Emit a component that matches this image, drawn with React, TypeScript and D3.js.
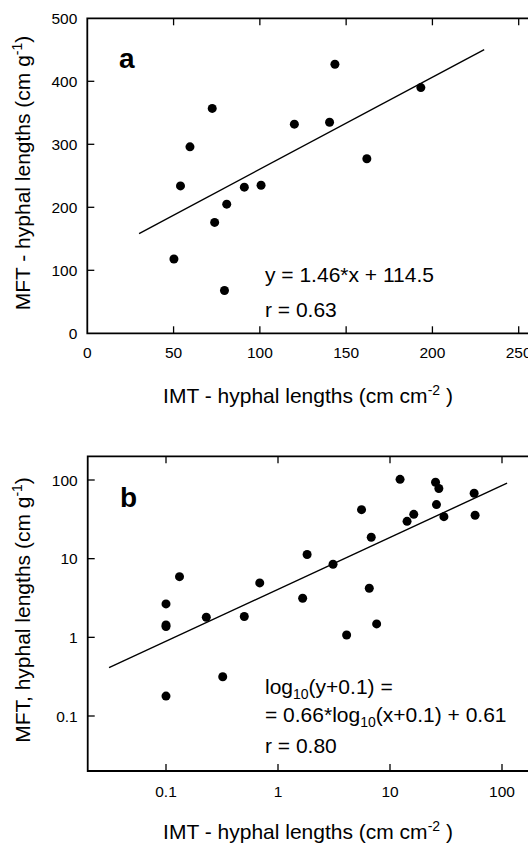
import * as d3 from 'd3'

// panel a: linear scale
const aX = [50.2, 54, 59.5, 72.4, 73.8, 79.5, 80.8, 91, 100.7, 120, 140.4, 143.5, 162, 193.3]
const aY = [118, 234, 296, 357, 176, 68, 205, 232, 235, 332, 335, 427, 277, 390]
const aXTicks = [0, 50, 100, 150, 200, 250]
const aYTicks = [0, 100, 200, 300, 400, 500]
const aFit = { slope: 1.46, intercept: 114.5, from: 30, to: 230 }

// panel b: log-log
const bX = [0.1, 0.1, 0.1, 0.1, 0.132, 0.229, 0.321, 0.5, 0.687, 1.66, 1.82, 3.1, 4.1, 5.57, 6.53, 6.8, 7.6, 12.3, 14.2, 16.3, 25.5, 27.3, 26, 30.3, 56.4, 57.5]
const bY = [2.66, 1.44, 1.37, 0.179, 5.9, 1.8, 0.315, 1.84, 4.92, 3.14, 11.3, 8.5, 1.07, 42, 4.2, 18.7, 1.48, 102, 29.8, 36.6, 93.5, 78, 48.7, 34.2, 67.8, 35.6]
const bXTicks = [0.1, 1, 10, 100]
const bYTicks = [0.1, 1, 10, 100]
const bFit = { slope: 0.66, intercept: 0.61, from: 0.031, to: 111 }

const FONT = '"Liberation Sans", Arial, sans-serif'
const TICK = 7

export default function App() {
  const xA = d3.scaleLinear().domain([0, 250]).range([87.3, 518.7])
  const yA = d3.scaleLinear().domain([0, 500]).range([333.3, 18.3])
  const xB = d3.scaleLog().domain([0.1, 100]).range([166, 502])
  const yB = d3.scaleLog().domain([0.1, 100]).range([716, 480])

  const lineA = d3.line<number>()
    .x(d => xA(d))
    .y(d => yA(aFit.slope * d + aFit.intercept))
  const lineB = d3.line<number>()
    .x(d => xB(d))
    .y(d => yB(Math.pow(10, bFit.intercept) * Math.pow(d, bFit.slope)))

  const frameA = { x0: xA(0), x1: xA(262), y0: yA(500), y1: yA(0) }
  const frameB = { x0: xB(0.02), x1: xB(200), y0: yB(200), y1: yB(0.02) }

  return (
    <div style={{ position: 'absolute', left: 0, top: 0 }}>
      <svg width={528} height={845} style={{ display: 'block', fontFamily: FONT }}>
        <rect width={528} height={845} fill="#fff" />

        {/* ---- panel a ---- */}
        <g>
          <path d={`M${frameA.x1},${frameA.y0}H${frameA.x0}V${frameA.y1}H${frameA.x1}`} fill="none" stroke="#000" strokeWidth={1.8} />
          {aXTicks.filter(t => t > 0).map(t => (
            <g key={'ax' + t}>
              <line x1={xA(t)} x2={xA(t)} y1={frameA.y1} y2={frameA.y1 - TICK} stroke="#000" strokeWidth={1.3} />
              <line x1={xA(t)} x2={xA(t)} y1={frameA.y0} y2={frameA.y0 + TICK} stroke="#000" strokeWidth={1.3} />
            </g>
          ))}
          {aYTicks.filter(t => t > 0 && t < 500).map(t => (
            <line key={'ay' + t} x1={frameA.x0} x2={frameA.x0 + TICK} y1={yA(t)} y2={yA(t)} stroke="#000" strokeWidth={1.3} />
          ))}
          {aXTicks.map(t => (
            <text key={'axl' + t} x={xA(t)} y={frameA.y1 + 25} fontSize={15.5} textAnchor="middle">{t}</text>
          ))}
          {aYTicks.map(t => (
            <text key={'ayl' + t} x={frameA.x0 - 10} y={yA(t)} dy="0.36em" fontSize={15.5} textAnchor="end">{t}</text>
          ))}
          <path d={lineA([aFit.from, aFit.to]) || ''} fill="none" stroke="#000" strokeWidth={1.4} />
          {aX.map((x, i) => (
            <circle key={'pa' + i} cx={xA(x)} cy={yA(aY[i])} r={4.5} fill="#000" />
          ))}
          <text x={119} y={68.3} fontSize={28} fontWeight="bold">a</text>
          <text x={265} y={281.7} fontSize={21}>y = 1.46*x + 114.5</text>
          <text x={265} y={316.7} fontSize={21}>r = 0.63</text>
          <text x={308} y={402.7} fontSize={21} textAnchor="middle">
            IMT - hyphal lengths (cm cm<tspan fontSize={14} dy={-8}>-2</tspan><tspan dy={8}> )</tspan>
          </text>
          <text transform="translate(30,173) rotate(-90)" fontSize={21} textAnchor="middle">
            MFT - hyphal lengths (cm g<tspan fontSize={14} dy={-8}>-1</tspan><tspan dy={8}>)</tspan>
          </text>
        </g>

        {/* ---- panel b ---- */}
        <g>
          <path d={`M${frameB.x1},${frameB.y0}H${frameB.x0}V${frameB.y1}H${frameB.x1}`} fill="none" stroke="#000" strokeWidth={1.8} />
          {bXTicks.map(t => (
            <g key={'bx' + t}>
              <line x1={xB(t)} x2={xB(t)} y1={frameB.y1} y2={frameB.y1 - TICK} stroke="#000" strokeWidth={1.3} />
              <line x1={xB(t)} x2={xB(t)} y1={frameB.y0} y2={frameB.y0 + TICK} stroke="#000" strokeWidth={1.3} />
              <text x={xB(t)} y={frameB.y1 + 26} fontSize={15.5} textAnchor="middle">{String(t)}</text>
            </g>
          ))}
          {bYTicks.map(t => (
            <g key={'by' + t}>
              <line x1={frameB.x0} x2={frameB.x0 + TICK} y1={yB(t)} y2={yB(t)} stroke="#000" strokeWidth={1.3} />
              <text x={frameB.x0 - 10} y={yB(t)} dy="0.36em" fontSize={15.5} textAnchor="end">{String(t)}</text>
            </g>
          ))}
          <path d={lineB([bFit.from, bFit.to]) || ''} fill="none" stroke="#000" strokeWidth={1.4} />
          {bX.map((x, i) => (
            <circle key={'pb' + i} cx={xB(x)} cy={yB(bY[i])} r={4.5} fill="#000" />
          ))}
          <text x={120} y={507.3} fontSize={28} fontWeight="bold">b</text>
          <text x={265} y={694} fontSize={21}>
            log<tspan fontSize={14} dy={5}>10</tspan><tspan dy={-5}>(y+0.1) =</tspan>
          </text>
          <text x={265} y={722} fontSize={21}>
            = 0.66*log<tspan fontSize={14} dy={5}>10</tspan><tspan dy={-5}>(x+0.1) + 0.61</tspan>
          </text>
          <text x={265} y={753} fontSize={21}>r = 0.80</text>
          <text x={308} y={839} fontSize={21} textAnchor="middle">
            IMT - hyphal lengths (cm cm<tspan fontSize={14} dy={-8}>-2</tspan><tspan dy={8}> )</tspan>
          </text>
          <text transform="translate(30,610) rotate(-90)" fontSize={21} textAnchor="middle">
            MFT, hyphal lengths (cm g<tspan fontSize={14} dy={-8}>-1</tspan><tspan dy={8}>)</tspan>
          </text>
        </g>
      </svg>
    </div>
  )
}
